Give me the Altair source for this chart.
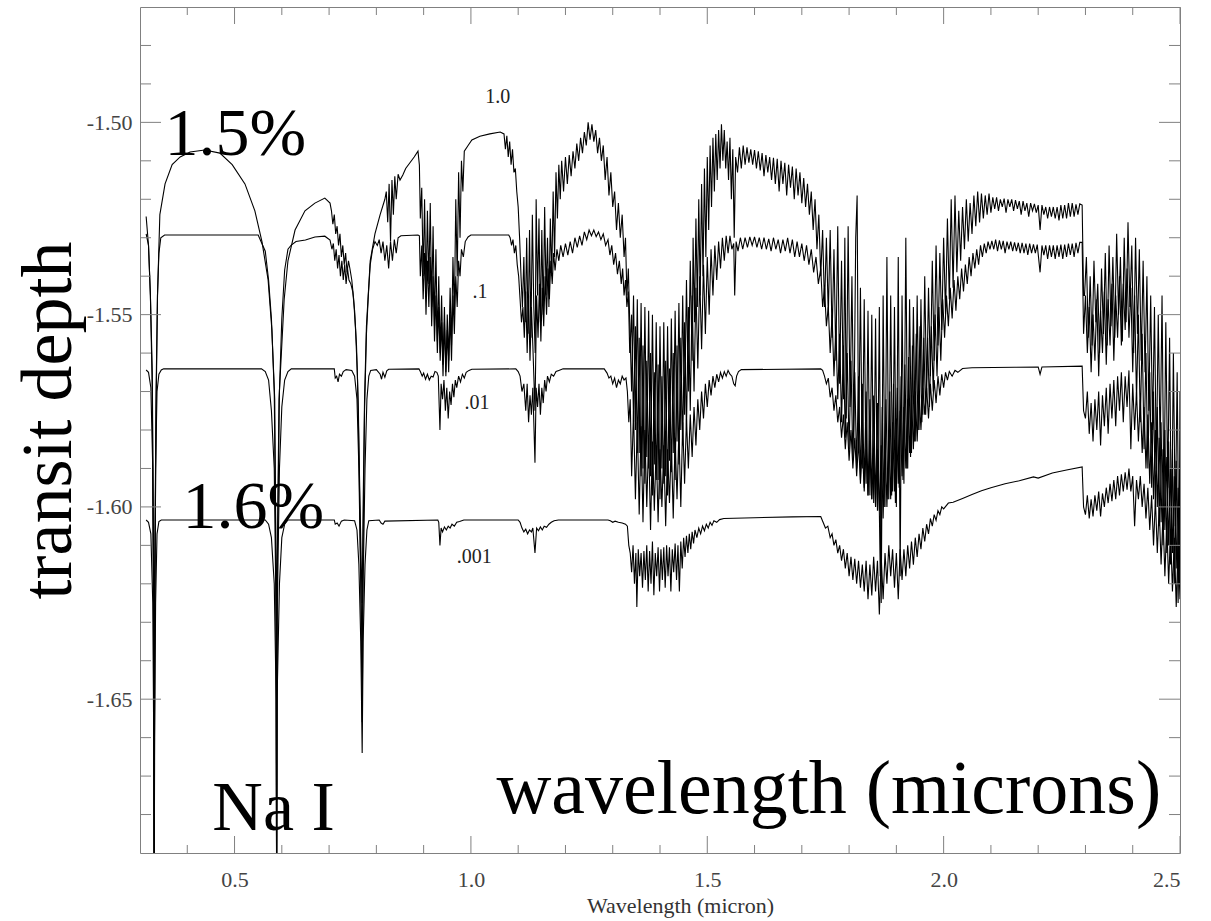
import altair as alt
import pandas as pd

# Model transit-depth spectra, (wavelength in micron, transit depth),
# one list per haze abundance (1.0, .1, .01, .001).
spec_1p0 = [
    (0.313, -1.5245), (0.318, -1.532), (0.322, -1.545), (0.326, -1.565), (0.329, -1.62),
    (0.330, -1.70), (0.331, -1.62), (0.334, -1.57), (0.337, -1.545), (0.342, -1.524),
    (0.353, -1.516), (0.368, -1.511), (0.385, -1.509), (0.406, -1.5077), (0.437, -1.5072),
    (0.469, -1.508), (0.495, -1.511), (0.522, -1.516), (0.543, -1.523), (0.558, -1.531),
    (0.571, -1.541), (0.579, -1.554), (0.585, -1.572), (0.588, -1.62), (0.589, -1.70),
    (0.590, -1.62), (0.594, -1.572), (0.605, -1.546), (0.613, -1.536), (0.628, -1.528),
    (0.649, -1.523), (0.670, -1.521), (0.691, -1.5197), (0.702, -1.521),
    (0.705, -1.523), (0.708, -1.5265), (0.711, -1.524), (0.714, -1.529), (0.717, -1.527),
    (0.720, -1.532), (0.723, -1.529), (0.726, -1.535), (0.729, -1.532), (0.732, -1.537),
    (0.735, -1.534), (0.738, -1.539), (0.741, -1.536), (0.744, -1.538), (0.748, -1.541),
    (0.752, -1.546), (0.756, -1.554), (0.760, -1.566), (0.764, -1.59), (0.768, -1.615),
    (0.770, -1.625), (0.772, -1.60), (0.775, -1.572), (0.779, -1.553), (0.787, -1.536),
    (0.797, -1.529), (0.808, -1.524), (0.818, -1.520), (0.821, -1.518), (0.824, -1.526),
    (0.827, -1.516), (0.830, -1.531), (0.833, -1.515), (0.836, -1.524), (0.839, -1.514),
    (0.842, -1.520), (0.846, -1.5135), (0.850, -1.515), (0.856, -1.5137), (0.862, -1.512),
    (0.871, -1.5105), (0.880, -1.509), (0.888, -1.5075),
    (0.891, -1.5111), (0.893, -1.525), (0.896, -1.517), (0.899, -1.540), (0.902, -1.520),
    (0.905, -1.545), (0.908, -1.523), (0.911, -1.542), (0.914, -1.521), (0.917, -1.548),
    (0.920, -1.527), (0.923, -1.553), (0.926, -1.533), (0.929, -1.557), (0.932, -1.540),
    (0.935, -1.560), (0.938, -1.545), (0.941, -1.563), (0.944, -1.548), (0.947, -1.565),
    (0.950, -1.550), (0.953, -1.562), (0.956, -1.543), (0.959, -1.558), (0.962, -1.535),
    (0.965, -1.550), (0.968, -1.520), (0.971, -1.540), (0.974, -1.513), (0.977, -1.530),
    (0.980, -1.510), (0.983, -1.518), (0.986, -1.5075), (0.994, -1.506), (1.002, -1.5046),
    (1.019, -1.5036), (1.040, -1.503), (1.062, -1.5025),
    (1.070, -1.503), (1.073, -1.507), (1.076, -1.5035), (1.079, -1.509), (1.082, -1.505),
    (1.085, -1.511), (1.088, -1.507), (1.091, -1.513), (1.094, -1.512), (1.097, -1.518),
    (1.100, -1.522), (1.103, -1.530), (1.106, -1.540), (1.109, -1.548),
    (1.112, -1.535), (1.115, -1.552), (1.118, -1.530), (1.121, -1.555), (1.124, -1.528),
    (1.127, -1.556), (1.130, -1.524), (1.133, -1.548), (1.136, -1.560), (1.138, -1.520),
    (1.141, -1.545), (1.144, -1.525), (1.147, -1.552), (1.150, -1.528), (1.153, -1.550),
    (1.156, -1.522), (1.159, -1.545), (1.162, -1.530), (1.165, -1.548), (1.168, -1.525),
    (1.171, -1.540), (1.174, -1.518), (1.177, -1.535), (1.180, -1.513), (1.183, -1.525),
    (1.186, -1.511), (1.189, -1.520), (1.192, -1.510), (1.196, -1.518), (1.200, -1.509),
    (1.204, -1.516), (1.208, -1.5085), (1.212, -1.514), (1.216, -1.5075), (1.220, -1.512),
    (1.224, -1.5055), (1.228, -1.510), (1.232, -1.504), (1.236, -1.508), (1.240, -1.5025),
    (1.244, -1.506), (1.248, -1.500), (1.252, -1.5045), (1.256, -1.5005), (1.260, -1.505),
    (1.264, -1.502), (1.268, -1.508), (1.272, -1.504), (1.276, -1.510), (1.280, -1.506),
    (1.284, -1.515), (1.288, -1.509), (1.292, -1.519), (1.296, -1.513), (1.300, -1.522),
    (1.304, -1.518), (1.308, -1.528), (1.312, -1.521), (1.316, -1.530), (1.320, -1.524),
    (1.324, -1.535), (1.327, -1.530), (1.330, -1.545), (1.333, -1.538),
    (1.336, -1.552), (1.340, -1.570), (1.344, -1.545), (1.348, -1.580), (1.352, -1.546),
    (1.356, -1.586), (1.360, -1.547), (1.364, -1.590), (1.368, -1.548), (1.372, -1.587),
    (1.376, -1.549), (1.380, -1.592), (1.384, -1.550), (1.388, -1.589), (1.392, -1.552),
    (1.396, -1.593), (1.400, -1.553), (1.404, -1.590), (1.408, -1.552), (1.412, -1.592),
    (1.416, -1.553), (1.420, -1.588), (1.424, -1.551), (1.428, -1.586), (1.432, -1.549),
    (1.436, -1.583), (1.440, -1.547), (1.444, -1.580), (1.448, -1.545), (1.452, -1.576),
    (1.456, -1.541), (1.460, -1.570), (1.464, -1.536), (1.468, -1.562),
    (1.470, -1.530), (1.473, -1.552), (1.476, -1.525), (1.479, -1.548), (1.482, -1.520),
    (1.485, -1.545), (1.488, -1.516), (1.491, -1.540), (1.494, -1.512), (1.497, -1.535),
    (1.500, -1.509), (1.503, -1.528), (1.506, -1.506), (1.509, -1.522), (1.512, -1.504),
    (1.515, -1.518), (1.518, -1.503), (1.521, -1.515), (1.524, -1.502), (1.527, -1.512),
    (1.530, -1.5005), (1.533, -1.510), (1.536, -1.502), (1.539, -1.512), (1.542, -1.505),
    (1.545, -1.515), (1.548, -1.504), (1.551, -1.520), (1.554, -1.507), (1.557, -1.530),
    (1.560, -1.509), (1.564, -1.513), (1.568, -1.5065), (1.572, -1.512), (1.576, -1.506),
    (1.580, -1.511), (1.584, -1.5065), (1.588, -1.5105), (1.592, -1.507), (1.596, -1.511),
    (1.600, -1.5072), (1.604, -1.512), (1.608, -1.5075), (1.612, -1.5125), (1.616, -1.508),
    (1.620, -1.514), (1.624, -1.5085), (1.628, -1.513), (1.632, -1.509), (1.636, -1.515),
    (1.640, -1.5092), (1.644, -1.516), (1.648, -1.5095), (1.652, -1.518), (1.656, -1.510),
    (1.660, -1.516), (1.664, -1.5105), (1.668, -1.519), (1.672, -1.511), (1.676, -1.517),
    (1.680, -1.5115), (1.684, -1.520), (1.688, -1.512), (1.692, -1.519), (1.696, -1.513),
    (1.700, -1.521), (1.704, -1.5145), (1.708, -1.522), (1.712, -1.516), (1.716, -1.524),
    (1.720, -1.518), (1.724, -1.528), (1.728, -1.520), (1.732, -1.533), (1.736, -1.524),
    (1.740, -1.540), (1.744, -1.528), (1.748, -1.548),
    (1.752, -1.530), (1.756, -1.550), (1.760, -1.528), (1.764, -1.556), (1.768, -1.533),
    (1.772, -1.562), (1.776, -1.527), (1.780, -1.568), (1.784, -1.536), (1.788, -1.572),
    (1.791, -1.530), (1.794, -1.577), (1.798, -1.527), (1.802, -1.574), (1.806, -1.540),
    (1.810, -1.582), (1.814, -1.530), (1.817, -1.519), (1.820, -1.586), (1.824, -1.543),
    (1.828, -1.590), (1.832, -1.546), (1.836, -1.594), (1.840, -1.549), (1.844, -1.597),
    (1.848, -1.550), (1.852, -1.599), (1.856, -1.551), (1.860, -1.601), (1.864, -1.548),
    (1.868, -1.625), (1.872, -1.545), (1.876, -1.600), (1.880, -1.535), (1.884, -1.598),
    (1.888, -1.545), (1.892, -1.596), (1.896, -1.548), (1.900, -1.600), (1.904, -1.535),
    (1.908, -1.618), (1.912, -1.545), (1.916, -1.594), (1.920, -1.530), (1.924, -1.590),
    (1.928, -1.546), (1.932, -1.586), (1.936, -1.548), (1.940, -1.583), (1.944, -1.545),
    (1.948, -1.580), (1.952, -1.546), (1.956, -1.576), (1.960, -1.540), (1.964, -1.571),
    (1.968, -1.543), (1.972, -1.566), (1.976, -1.536), (1.980, -1.562), (1.984, -1.532),
    (1.988, -1.558), (1.992, -1.534), (1.996, -1.554), (2.000, -1.530), (2.004, -1.550),
    (2.008, -1.525), (2.012, -1.546), (2.016, -1.520), (2.020, -1.543), (2.024, -1.519),
    (2.028, -1.539), (2.032, -1.523), (2.036, -1.536), (2.040, -1.522), (2.044, -1.533),
    (2.048, -1.520), (2.052, -1.531), (2.056, -1.521), (2.060, -1.529), (2.064, -1.519),
    (2.068, -1.527), (2.072, -1.518), (2.076, -1.526), (2.080, -1.5185), (2.084, -1.525),
    (2.088, -1.519), (2.092, -1.524), (2.096, -1.5185), (2.100, -1.5235),
    (2.104, -1.5195), (2.108, -1.5225), (2.112, -1.5195), (2.116, -1.523), (2.120, -1.520),
    (2.124, -1.522), (2.128, -1.5198), (2.132, -1.5235), (2.136, -1.520), (2.140, -1.522),
    (2.144, -1.5200), (2.148, -1.523), (2.152, -1.5202), (2.156, -1.5225), (2.160, -1.5205),
    (2.164, -1.524), (2.168, -1.5205), (2.172, -1.523), (2.176, -1.521), (2.180, -1.5245),
    (2.184, -1.521), (2.188, -1.523), (2.192, -1.5212), (2.196, -1.5235), (2.200, -1.5215),
    (2.204, -1.528), (2.208, -1.5215), (2.212, -1.524), (2.216, -1.522), (2.220, -1.525),
    (2.224, -1.522), (2.228, -1.5245), (2.232, -1.522), (2.236, -1.525), (2.240, -1.522),
    (2.244, -1.5255), (2.248, -1.5215), (2.252, -1.525), (2.256, -1.5215), (2.260, -1.525),
    (2.264, -1.521), (2.268, -1.5245), (2.272, -1.521), (2.276, -1.5245), (2.280, -1.5213),
    (2.284, -1.524), (2.288, -1.5212), (2.293, -1.5215), (2.296, -1.545),
    (2.298, -1.545), (2.302, -1.535), (2.306, -1.556), (2.310, -1.540), (2.314, -1.558),
    (2.318, -1.536), (2.322, -1.552), (2.326, -1.542), (2.330, -1.560), (2.334, -1.538),
    (2.338, -1.555), (2.342, -1.534), (2.346, -1.558), (2.350, -1.532), (2.354, -1.553),
    (2.358, -1.535), (2.362, -1.556), (2.366, -1.529), (2.370, -1.550), (2.374, -1.535),
    (2.378, -1.557), (2.382, -1.530), (2.386, -1.552), (2.390, -1.526), (2.394, -1.548),
    (2.398, -1.532), (2.402, -1.560), (2.406, -1.530), (2.410, -1.555), (2.414, -1.533),
    (2.418, -1.562), (2.422, -1.536), (2.426, -1.565), (2.430, -1.540), (2.434, -1.575),
    (2.438, -1.545), (2.442, -1.580), (2.446, -1.548), (2.450, -1.590), (2.454, -1.550),
    (2.458, -1.585), (2.462, -1.545), (2.466, -1.600), (2.470, -1.552), (2.474, -1.595),
    (2.478, -1.556), (2.482, -1.610), (2.486, -1.560), (2.490, -1.605), (2.494, -1.565),
    (2.498, -1.620), (2.500, -1.570),
]

spec_0p1 = [
    (0.313, -1.529), (0.318, -1.532), (0.322, -1.545), (0.326, -1.57), (0.329, -1.63),
    (0.330, -1.70), (0.331, -1.63), (0.334, -1.575), (0.337, -1.545), (0.340, -1.534),
    (0.344, -1.530), (0.352, -1.5293), (0.550, -1.5293), (0.556, -1.531), (0.565, -1.5335),
    (0.572, -1.541), (0.578, -1.551), (0.584, -1.57), (0.588, -1.62), (0.589, -1.70),
    (0.590, -1.62), (0.595, -1.57), (0.600, -1.551), (0.606, -1.5384), (0.613, -1.533),
    (0.620, -1.5319), (0.630, -1.531), (0.650, -1.5306), (0.670, -1.5298), (0.691, -1.5296),
    (0.702, -1.5306),
    (0.706, -1.533), (0.709, -1.5315), (0.712, -1.536), (0.715, -1.533), (0.718, -1.538),
    (0.721, -1.5345), (0.724, -1.540), (0.727, -1.536), (0.730, -1.541), (0.733, -1.537),
    (0.736, -1.542), (0.739, -1.538), (0.742, -1.541), (0.746, -1.542), (0.750, -1.544),
    (0.754, -1.549), (0.758, -1.558), (0.762, -1.575), (0.766, -1.61), (0.770, -1.640),
    (0.772, -1.61), (0.775, -1.575), (0.779, -1.555), (0.783, -1.545), (0.787, -1.537),
    (0.792, -1.533), (0.797, -1.531),
    (0.802, -1.532), (0.806, -1.5305), (0.810, -1.534), (0.814, -1.531), (0.818, -1.536),
    (0.822, -1.532), (0.826, -1.538), (0.830, -1.531), (0.834, -1.536), (0.838, -1.5305),
    (0.842, -1.534), (0.846, -1.530), (0.852, -1.5295), (0.888, -1.5293),
    (0.891, -1.5295), (0.893, -1.540), (0.896, -1.532), (0.899, -1.546), (0.902, -1.534),
    (0.905, -1.550), (0.908, -1.536), (0.911, -1.548), (0.914, -1.535), (0.917, -1.553),
    (0.920, -1.540), (0.923, -1.557), (0.926, -1.545), (0.929, -1.560), (0.932, -1.548),
    (0.935, -1.562), (0.938, -1.552), (0.941, -1.566), (0.944, -1.552), (0.947, -1.566),
    (0.950, -1.554), (0.953, -1.565), (0.956, -1.550), (0.959, -1.562), (0.962, -1.545),
    (0.965, -1.555), (0.968, -1.540), (0.971, -1.548), (0.974, -1.536), (0.977, -1.540),
    (0.980, -1.533), (0.984, -1.535), (0.988, -1.531), (0.994, -1.5298), (1.000, -1.5293),
    (1.080, -1.5293),
    (1.083, -1.530), (1.086, -1.532), (1.089, -1.5305), (1.092, -1.534), (1.095, -1.532),
    (1.098, -1.537), (1.101, -1.540), (1.104, -1.546), (1.107, -1.552), (1.110, -1.548),
    (1.113, -1.556), (1.116, -1.544), (1.119, -1.560), (1.122, -1.545), (1.125, -1.562),
    (1.128, -1.548), (1.131, -1.558), (1.1355, -1.575), (1.139, -1.545), (1.142, -1.556),
    (1.145, -1.542), (1.148, -1.557), (1.151, -1.543), (1.154, -1.553), (1.157, -1.540),
    (1.160, -1.550), (1.163, -1.538), (1.166, -1.546), (1.169, -1.536), (1.172, -1.542),
    (1.175, -1.534), (1.178, -1.5385), (1.182, -1.533), (1.186, -1.536), (1.190, -1.532),
    (1.195, -1.535), (1.200, -1.5315), (1.205, -1.5345), (1.210, -1.531), (1.215, -1.534),
    (1.220, -1.530), (1.225, -1.5325), (1.230, -1.5295), (1.235, -1.532), (1.240, -1.5285),
    (1.245, -1.5305), (1.250, -1.528), (1.255, -1.5295), (1.260, -1.528), (1.265, -1.5297),
    (1.270, -1.5285), (1.275, -1.5305), (1.280, -1.529), (1.285, -1.532), (1.290, -1.5305),
    (1.294, -1.5345), (1.298, -1.532), (1.302, -1.537), (1.306, -1.534), (1.310, -1.5395),
    (1.314, -1.536), (1.318, -1.542), (1.321, -1.538), (1.324, -1.545), (1.327, -1.541),
    (1.330, -1.548), (1.333, -1.544),
    (1.336, -1.560), (1.340, -1.550), (1.344, -1.578), (1.348, -1.553), (1.352, -1.586),
    (1.356, -1.556), (1.360, -1.592), (1.364, -1.558), (1.368, -1.594), (1.372, -1.562),
    (1.376, -1.590), (1.380, -1.560), (1.384, -1.597), (1.388, -1.565), (1.392, -1.593),
    (1.396, -1.563), (1.400, -1.598), (1.404, -1.566), (1.408, -1.594), (1.412, -1.562),
    (1.416, -1.597), (1.420, -1.564), (1.424, -1.591), (1.428, -1.560), (1.432, -1.593),
    (1.436, -1.558), (1.440, -1.589), (1.444, -1.556), (1.448, -1.584), (1.452, -1.552),
    (1.456, -1.580), (1.460, -1.548), (1.464, -1.575), (1.468, -1.545), (1.472, -1.570),
    (1.476, -1.543), (1.480, -1.564), (1.484, -1.540), (1.488, -1.559), (1.492, -1.537),
    (1.496, -1.555), (1.500, -1.535), (1.504, -1.550), (1.508, -1.533), (1.512, -1.545),
    (1.516, -1.532), (1.520, -1.541), (1.524, -1.531), (1.528, -1.538), (1.532, -1.530),
    (1.536, -1.536), (1.540, -1.5295), (1.544, -1.534), (1.548, -1.5295), (1.552, -1.533),
    (1.556, -1.5315), (1.558, -1.545), (1.561, -1.531), (1.565, -1.5335), (1.570, -1.530),
    (1.575, -1.533), (1.580, -1.530), (1.585, -1.5325), (1.590, -1.5298), (1.595, -1.532),
    (1.600, -1.5298), (1.605, -1.5325), (1.610, -1.530), (1.615, -1.533), (1.620, -1.530),
    (1.625, -1.533), (1.630, -1.5303), (1.635, -1.5335), (1.640, -1.530), (1.645, -1.533),
    (1.650, -1.5305), (1.655, -1.534), (1.660, -1.5305), (1.665, -1.5335), (1.670, -1.530),
    (1.675, -1.534), (1.680, -1.5305), (1.685, -1.535), (1.690, -1.531), (1.695, -1.535),
    (1.700, -1.5315), (1.705, -1.536), (1.710, -1.532), (1.715, -1.537), (1.720, -1.533),
    (1.725, -1.539), (1.730, -1.535), (1.735, -1.542), (1.740, -1.538), (1.744, -1.548),
    (1.748, -1.543), (1.752, -1.553),
    (1.756, -1.548), (1.760, -1.560), (1.764, -1.550), (1.768, -1.566), (1.772, -1.553),
    (1.776, -1.572), (1.780, -1.555), (1.784, -1.578), (1.788, -1.558), (1.792, -1.582),
    (1.796, -1.560), (1.800, -1.585), (1.804, -1.562), (1.808, -1.588), (1.812, -1.565),
    (1.816, -1.590), (1.820, -1.566), (1.824, -1.593), (1.828, -1.568), (1.832, -1.595),
    (1.836, -1.570), (1.840, -1.597), (1.844, -1.572), (1.848, -1.598), (1.852, -1.571),
    (1.856, -1.600), (1.860, -1.573), (1.864, -1.601), (1.866, -1.618), (1.870, -1.574),
    (1.874, -1.600), (1.878, -1.572), (1.882, -1.598), (1.886, -1.570), (1.890, -1.597),
    (1.894, -1.568), (1.898, -1.599), (1.902, -1.569), (1.906, -1.595), (1.910, -1.566),
    (1.914, -1.593), (1.918, -1.563), (1.922, -1.590), (1.926, -1.561), (1.930, -1.587),
    (1.934, -1.558), (1.938, -1.583), (1.942, -1.555), (1.946, -1.580), (1.950, -1.553),
    (1.954, -1.578), (1.958, -1.556), (1.962, -1.576), (1.966, -1.556), (1.970, -1.574),
    (1.974, -1.553), (1.978, -1.570), (1.982, -1.550), (1.986, -1.566), (1.990, -1.548),
    (1.994, -1.562), (1.998, -1.546), (2.002, -1.556), (2.006, -1.545), (2.010, -1.553),
    (2.014, -1.543), (2.018, -1.551), (2.022, -1.541), (2.026, -1.549), (2.030, -1.540),
    (2.034, -1.546), (2.038, -1.538), (2.042, -1.544), (2.046, -1.537), (2.050, -1.542),
    (2.054, -1.535), (2.058, -1.540), (2.062, -1.534), (2.066, -1.538), (2.070, -1.533),
    (2.074, -1.537), (2.078, -1.532), (2.082, -1.535), (2.086, -1.5315), (2.090, -1.534),
    (2.094, -1.531), (2.098, -1.533), (2.102, -1.5308),
    (2.106, -1.533), (2.110, -1.5305), (2.114, -1.5335), (2.118, -1.5307), (2.122, -1.533),
    (2.126, -1.5308), (2.130, -1.534), (2.134, -1.531), (2.138, -1.533), (2.142, -1.531),
    (2.146, -1.5335), (2.150, -1.5312), (2.154, -1.5335), (2.158, -1.5313), (2.162, -1.534),
    (2.166, -1.5313), (2.170, -1.534), (2.174, -1.5315), (2.178, -1.5345), (2.182, -1.5315),
    (2.186, -1.534), (2.190, -1.5317), (2.194, -1.534), (2.198, -1.5318), (2.204, -1.539),
    (2.208, -1.532), (2.212, -1.5345), (2.216, -1.532), (2.220, -1.5355), (2.224, -1.532),
    (2.228, -1.535), (2.232, -1.532), (2.236, -1.5355), (2.240, -1.532), (2.244, -1.535),
    (2.248, -1.5318), (2.252, -1.5355), (2.256, -1.5318), (2.260, -1.535), (2.264, -1.5315),
    (2.268, -1.5345), (2.272, -1.5315), (2.276, -1.535), (2.280, -1.5313), (2.284, -1.534),
    (2.288, -1.5312), (2.293, -1.5312), (2.296, -1.555),
    (2.300, -1.545), (2.304, -1.560), (2.308, -1.548), (2.312, -1.565), (2.316, -1.550),
    (2.320, -1.562), (2.324, -1.546), (2.328, -1.566), (2.332, -1.549), (2.336, -1.560),
    (2.340, -1.544), (2.344, -1.563), (2.348, -1.546), (2.352, -1.558), (2.356, -1.542),
    (2.360, -1.562), (2.364, -1.545), (2.368, -1.556), (2.372, -1.540), (2.376, -1.558),
    (2.380, -1.542), (2.384, -1.554), (2.388, -1.538), (2.392, -1.556), (2.396, -1.543),
    (2.400, -1.565), (2.404, -1.545), (2.408, -1.572), (2.412, -1.550), (2.416, -1.578),
    (2.420, -1.555), (2.424, -1.585), (2.428, -1.560), (2.432, -1.590), (2.436, -1.565),
    (2.440, -1.595), (2.444, -1.570), (2.448, -1.600), (2.452, -1.574), (2.456, -1.605),
    (2.460, -1.578), (2.464, -1.610), (2.468, -1.580), (2.472, -1.612), (2.476, -1.583),
    (2.480, -1.615), (2.484, -1.585), (2.488, -1.620), (2.492, -1.588), (2.496, -1.625),
    (2.500, -1.590),
]

spec_0p01 = [
    (0.313, -1.5644), (0.318, -1.565), (0.323, -1.569), (0.327, -1.59), (0.329, -1.64),
    (0.330, -1.70), (0.331, -1.64), (0.333, -1.59), (0.336, -1.570), (0.340, -1.5655),
    (0.345, -1.5644), (0.350, -1.5641), (0.557, -1.5641), (0.565, -1.5648), (0.572, -1.567),
    (0.578, -1.575), (0.584, -1.59), (0.588, -1.63), (0.589, -1.70), (0.590, -1.63),
    (0.595, -1.59), (0.600, -1.574), (0.606, -1.567), (0.613, -1.5648), (0.620, -1.5641),
    (0.711, -1.5641), (0.713, -1.5665), (0.716, -1.566), (0.719, -1.5675), (0.722, -1.5655),
    (0.726, -1.566), (0.730, -1.5648), (0.736, -1.5643), (0.748, -1.5645), (0.754, -1.566),
    (0.759, -1.572), (0.763, -1.59), (0.767, -1.62), (0.770, -1.656), (0.772, -1.62),
    (0.776, -1.59), (0.780, -1.572), (0.784, -1.566), (0.788, -1.5645), (0.800, -1.5643),
    (0.808, -1.5655), (0.811, -1.5668), (0.814, -1.565), (0.818, -1.5663), (0.822, -1.5646),
    (0.826, -1.5642), (0.890, -1.5641),
    (0.893, -1.5648), (0.897, -1.566), (0.900, -1.5652), (0.904, -1.5668), (0.908, -1.5655),
    (0.912, -1.567), (0.916, -1.566), (0.920, -1.5662), (0.924, -1.5648), (0.928, -1.565),
    (0.931, -1.566), (0.9345, -1.580), (0.937, -1.568), (0.940, -1.572), (0.943, -1.567),
    (0.946, -1.575), (0.949, -1.569), (0.952, -1.577), (0.955, -1.570), (0.958, -1.5735),
    (0.961, -1.568), (0.964, -1.5715), (0.967, -1.567), (0.970, -1.569), (0.974, -1.566),
    (0.978, -1.5675), (0.982, -1.5655), (0.986, -1.5665), (0.990, -1.565), (0.996, -1.5645),
    (1.002, -1.5642), (1.095, -1.5641),
    (1.100, -1.5648), (1.104, -1.566), (1.108, -1.570), (1.112, -1.568), (1.116, -1.575),
    (1.119, -1.568), (1.122, -1.578), (1.125, -1.571), (1.128, -1.576), (1.131, -1.569),
    (1.1355, -1.5885), (1.138, -1.569), (1.141, -1.574), (1.144, -1.568), (1.147, -1.576),
    (1.150, -1.569), (1.153, -1.573), (1.156, -1.567), (1.159, -1.570), (1.162, -1.566),
    (1.166, -1.5675), (1.170, -1.5655), (1.175, -1.566), (1.180, -1.5648), (1.186, -1.5645),
    (1.195, -1.5641), (1.282, -1.5641),
    (1.288, -1.5652), (1.292, -1.5665), (1.296, -1.566), (1.300, -1.568), (1.304, -1.5665),
    (1.308, -1.569), (1.312, -1.567), (1.316, -1.568), (1.320, -1.566), (1.324, -1.567),
    (1.328, -1.5665), (1.331, -1.570),
    (1.334, -1.578), (1.337, -1.572), (1.340, -1.592), (1.344, -1.575), (1.348, -1.598),
    (1.352, -1.578), (1.356, -1.602), (1.360, -1.579), (1.364, -1.604), (1.368, -1.580),
    (1.372, -1.600), (1.376, -1.582), (1.380, -1.606), (1.384, -1.583), (1.388, -1.601),
    (1.392, -1.584), (1.396, -1.604), (1.400, -1.585), (1.404, -1.600), (1.408, -1.584),
    (1.412, -1.605), (1.416, -1.585), (1.420, -1.599), (1.424, -1.583), (1.428, -1.603),
    (1.432, -1.582), (1.436, -1.598), (1.440, -1.580), (1.444, -1.600), (1.448, -1.578),
    (1.452, -1.594), (1.456, -1.577), (1.460, -1.590), (1.464, -1.576), (1.468, -1.587),
    (1.472, -1.574), (1.476, -1.584), (1.480, -1.572), (1.484, -1.580), (1.488, -1.570),
    (1.492, -1.577), (1.496, -1.568), (1.500, -1.574), (1.504, -1.567), (1.508, -1.571),
    (1.512, -1.566), (1.516, -1.569), (1.520, -1.5655), (1.524, -1.5675), (1.528, -1.565),
    (1.532, -1.5665), (1.536, -1.5648), (1.540, -1.566), (1.544, -1.5645), (1.548, -1.5655),
    (1.552, -1.566), (1.556, -1.568), (1.559, -1.5685), (1.562, -1.566), (1.566, -1.5648),
    (1.572, -1.5643), (1.740, -1.5641),
    (1.744, -1.5645), (1.748, -1.566), (1.752, -1.568), (1.756, -1.5665), (1.760, -1.5715),
    (1.764, -1.569), (1.768, -1.575), (1.772, -1.571), (1.776, -1.578), (1.780, -1.574),
    (1.784, -1.582), (1.788, -1.576), (1.792, -1.585), (1.796, -1.578), (1.800, -1.588),
    (1.804, -1.580), (1.808, -1.590), (1.812, -1.582), (1.816, -1.592), (1.820, -1.583),
    (1.824, -1.594), (1.828, -1.584), (1.832, -1.596), (1.836, -1.585), (1.840, -1.597),
    (1.844, -1.586), (1.848, -1.598), (1.852, -1.586), (1.856, -1.600), (1.860, -1.585),
    (1.864, -1.601), (1.868, -1.584), (1.872, -1.603), (1.876, -1.582), (1.880, -1.600),
    (1.884, -1.580), (1.888, -1.598), (1.892, -1.578), (1.896, -1.596), (1.900, -1.577),
    (1.904, -1.594), (1.908, -1.575), (1.912, -1.592), (1.916, -1.574), (1.920, -1.590),
    (1.924, -1.572), (1.928, -1.586), (1.932, -1.571), (1.936, -1.585), (1.940, -1.570),
    (1.944, -1.583), (1.948, -1.570), (1.952, -1.580), (1.956, -1.569), (1.960, -1.576),
    (1.964, -1.569), (1.968, -1.577), (1.972, -1.568), (1.976, -1.575), (1.980, -1.567),
    (1.984, -1.573), (1.988, -1.566), (1.992, -1.571), (1.996, -1.5655), (2.000, -1.569),
    (2.004, -1.565), (2.008, -1.567), (2.012, -1.5648), (2.018, -1.566), (2.024, -1.5645),
    (2.030, -1.565), (2.040, -1.5640), (2.060, -1.5638), (2.150, -1.5637), (2.200, -1.5636),
    (2.204, -1.5655), (2.208, -1.5636), (2.293, -1.5634), (2.296, -1.575),
    (2.300, -1.577), (2.304, -1.570), (2.308, -1.581), (2.312, -1.573), (2.316, -1.583),
    (2.320, -1.572), (2.324, -1.580), (2.328, -1.570), (2.332, -1.584), (2.336, -1.571),
    (2.340, -1.579), (2.344, -1.569), (2.348, -1.581), (2.352, -1.568), (2.356, -1.577),
    (2.360, -1.567), (2.364, -1.579), (2.368, -1.566), (2.372, -1.575), (2.376, -1.565),
    (2.380, -1.578), (2.384, -1.566), (2.388, -1.574), (2.392, -1.5645), (2.396, -1.585),
    (2.400, -1.568), (2.404, -1.580), (2.408, -1.570), (2.412, -1.583), (2.416, -1.572),
    (2.420, -1.586), (2.424, -1.574), (2.428, -1.590), (2.432, -1.576), (2.436, -1.594),
    (2.440, -1.578), (2.444, -1.598), (2.448, -1.580), (2.452, -1.600), (2.456, -1.582),
    (2.460, -1.604), (2.464, -1.585), (2.468, -1.606), (2.472, -1.587), (2.476, -1.610),
    (2.480, -1.590), (2.484, -1.612), (2.488, -1.592), (2.492, -1.616), (2.496, -1.595),
    (2.500, -1.620),
]

spec_0p001 = [
    (0.313, -1.6034), (0.318, -1.604), (0.323, -1.607), (0.327, -1.625), (0.329, -1.66),
    (0.330, -1.70), (0.331, -1.66), (0.333, -1.625), (0.336, -1.607), (0.340, -1.6038),
    (0.345, -1.6034), (0.565, -1.6034), (0.572, -1.6045), (0.578, -1.608), (0.584, -1.62),
    (0.588, -1.65), (0.589, -1.70), (0.590, -1.65), (0.595, -1.62), (0.600, -1.608),
    (0.606, -1.6045), (0.613, -1.6034), (0.711, -1.6034), (0.713, -1.6045), (0.717, -1.6042),
    (0.721, -1.605), (0.726, -1.6037), (0.732, -1.6034), (0.754, -1.6036), (0.759, -1.606),
    (0.763, -1.615), (0.767, -1.635), (0.770, -1.664), (0.772, -1.635), (0.776, -1.615),
    (0.780, -1.606), (0.784, -1.6036), (0.806, -1.6034), (0.810, -1.6042), (0.814, -1.6045),
    (0.818, -1.6037), (0.930, -1.6034),
    (0.932, -1.604), (0.9345, -1.610), (0.937, -1.6055), (0.940, -1.6065), (0.944, -1.6052),
    (0.948, -1.606), (0.952, -1.605), (0.956, -1.6055), (0.960, -1.6045), (0.965, -1.605),
    (0.970, -1.604), (0.976, -1.6038), (0.985, -1.6034), (1.100, -1.6034),
    (1.104, -1.604), (1.108, -1.6055), (1.112, -1.6065), (1.116, -1.6058), (1.120, -1.607),
    (1.124, -1.606), (1.128, -1.6065), (1.131, -1.6055), (1.1355, -1.612), (1.139, -1.6055),
    (1.143, -1.6062), (1.147, -1.6052), (1.151, -1.606), (1.155, -1.605), (1.160, -1.6053),
    (1.165, -1.6045), (1.170, -1.604), (1.176, -1.6036), (1.185, -1.6034), (1.290, -1.6034),
    (1.295, -1.6036), (1.300, -1.604), (1.305, -1.6037), (1.312, -1.604), (1.320, -1.6042),
    (1.327, -1.6045), (1.331, -1.605), (1.334, -1.610),
    (1.337, -1.612), (1.340, -1.617), (1.343, -1.610), (1.346, -1.620), (1.349, -1.612),
    (1.351, -1.626), (1.354, -1.611), (1.357, -1.618), (1.360, -1.612), (1.363, -1.621),
    (1.366, -1.6115), (1.369, -1.619), (1.372, -1.610), (1.375, -1.622), (1.378, -1.6115),
    (1.381, -1.620), (1.384, -1.609), (1.387, -1.623), (1.390, -1.612), (1.393, -1.618),
    (1.396, -1.6105), (1.399, -1.622), (1.402, -1.611), (1.405, -1.619), (1.408, -1.6105),
    (1.411, -1.621), (1.414, -1.610), (1.417, -1.618), (1.420, -1.6105), (1.423, -1.622),
    (1.426, -1.611), (1.429, -1.617), (1.432, -1.6095), (1.435, -1.619), (1.438, -1.610),
    (1.441, -1.622), (1.444, -1.609), (1.447, -1.616), (1.450, -1.608), (1.453, -1.613),
    (1.456, -1.6075), (1.459, -1.612), (1.462, -1.607), (1.465, -1.611), (1.468, -1.6065),
    (1.471, -1.6095), (1.474, -1.606), (1.478, -1.608), (1.482, -1.6055), (1.486, -1.607),
    (1.490, -1.605), (1.494, -1.6062), (1.498, -1.6045), (1.502, -1.6055), (1.506, -1.604),
    (1.510, -1.6048), (1.514, -1.6036), (1.520, -1.6040), (1.526, -1.6033), (1.535, -1.6030),
    (1.600, -1.6028), (1.680, -1.6026), (1.740, -1.6025),
    (1.745, -1.604), (1.750, -1.6055), (1.755, -1.605), (1.760, -1.608), (1.764, -1.607),
    (1.768, -1.610), (1.772, -1.6085), (1.776, -1.612), (1.780, -1.610), (1.784, -1.614),
    (1.788, -1.611), (1.792, -1.616), (1.796, -1.612), (1.800, -1.618), (1.804, -1.613),
    (1.808, -1.619), (1.812, -1.6135), (1.816, -1.620), (1.820, -1.614), (1.824, -1.621),
    (1.828, -1.615), (1.832, -1.622), (1.836, -1.614), (1.840, -1.624), (1.844, -1.615),
    (1.848, -1.623), (1.852, -1.613), (1.856, -1.622), (1.860, -1.614), (1.864, -1.628),
    (1.868, -1.613), (1.872, -1.624), (1.876, -1.612), (1.880, -1.620), (1.884, -1.610),
    (1.888, -1.618), (1.892, -1.611), (1.896, -1.621), (1.900, -1.612), (1.904, -1.624),
    (1.908, -1.611), (1.912, -1.619), (1.916, -1.611), (1.920, -1.618), (1.924, -1.610),
    (1.928, -1.616), (1.932, -1.609), (1.936, -1.615), (1.940, -1.608), (1.944, -1.613),
    (1.948, -1.607), (1.952, -1.611), (1.956, -1.6055), (1.960, -1.609), (1.964, -1.6045),
    (1.968, -1.607), (1.972, -1.603), (1.976, -1.605), (1.980, -1.602), (1.984, -1.6035),
    (1.988, -1.601), (1.992, -1.602), (1.996, -1.600), (2.000, -1.6005), (2.010, -1.5990),
    (2.020, -1.5988), (2.040, -1.5978), (2.060, -1.5968), (2.080, -1.5958), (2.100, -1.5950),
    (2.130, -1.5940), (2.160, -1.5932), (2.190, -1.5922), (2.200, -1.5925), (2.230, -1.5912),
    (2.260, -1.5904), (2.293, -1.5896), (2.296, -1.600),
    (2.300, -1.602), (2.304, -1.597), (2.308, -1.603), (2.312, -1.598), (2.316, -1.6025),
    (2.320, -1.597), (2.324, -1.601), (2.328, -1.596), (2.332, -1.6025), (2.336, -1.5965),
    (2.340, -1.600), (2.344, -1.595), (2.348, -1.599), (2.352, -1.594), (2.356, -1.5985),
    (2.360, -1.593), (2.364, -1.598), (2.368, -1.592), (2.372, -1.597), (2.376, -1.5915),
    (2.380, -1.596), (2.384, -1.591), (2.388, -1.5955), (2.392, -1.590), (2.396, -1.596),
    (2.400, -1.592), (2.404, -1.605), (2.408, -1.593), (2.412, -1.598), (2.416, -1.592),
    (2.420, -1.600), (2.424, -1.594), (2.428, -1.603), (2.432, -1.595), (2.436, -1.606),
    (2.440, -1.597), (2.444, -1.610), (2.448, -1.598), (2.452, -1.612), (2.456, -1.600),
    (2.460, -1.615), (2.464, -1.602), (2.468, -1.618), (2.472, -1.604), (2.476, -1.620),
    (2.480, -1.606), (2.484, -1.622), (2.488, -1.608), (2.492, -1.626), (2.496, -1.610),
    (2.500, -1.624),
]

series_names = ["1.0", ".1", ".01", ".001"]

# Axis tick positions
x_major = [0.5, 1.0, 1.5, 2.0, 2.5]
x_minor = [0.4, 0.6, 0.7, 0.8, 0.9, 1.1, 1.2, 1.3, 1.4, 1.6, 1.7, 1.8, 1.9,
           2.1, 2.2, 2.3, 2.4]
y_major = [-1.65, -1.60, -1.55, -1.50]
y_minor = [-1.48, -1.49, -1.51, -1.52, -1.53, -1.54, -1.56, -1.57, -1.58,
           -1.59, -1.61, -1.62, -1.63, -1.64, -1.66, -1.67, -1.68]

# Curve labels (abundance) and their anchor points
curve_labels = ["1.0", ".1", ".01", ".001"]
curve_label_wl = [1.057, 1.019, 1.013, 1.007]
curve_label_depth = [-1.4934, -1.5441, -1.5730, -1.6130]

# Large annotations: text, anchor wavelength, anchor depth (left/baseline)
note_text = ["1.5%", "1.6%", "Na I", "wavelength (microns)"]
note_wl = [0.352, 0.390, 0.453, 1.054]
note_depth = [-1.5085, -1.6055, -1.6840, -1.6796]

W, H = 1040, 846
SERIF = "Liberation Serif"
FRAME = "#808080"

rows = []
for name, spec in zip(series_names, [spec_1p0, spec_0p1, spec_0p01, spec_0p001]):
    for wl, d in spec:
        rows.append({"series": name, "wl": wl, "depth": d})
spectra = pd.DataFrame(rows)

x_scale = alt.Scale(domain=[0.3, 2.5], nice=False, zero=False)
y_scale = alt.Scale(domain=[-1.69, -1.47], nice=False, zero=False)

x_axis = alt.Axis(
    values=x_major, labelExpr="format(datum.value, '.1f')",
    ticks=False, tickSize=0, domain=False, grid=False,
    labelFont=SERIF, labelFontSize=22, labelColor="#444", labelPadding=16,
    title="Wavelength (micron)", titleFont=SERIF, titleFontSize=22,
    titleFontWeight="normal", titleColor="#333",
    titleX=540, titleY=59, titleAlign="center", titleBaseline="alphabetic",
)
y_axis = alt.Axis(
    values=y_major,
    labelExpr="replace(format(datum.value, '.2f'), '\u2212', '-')",
    ticks=False, tickSize=0, domain=False, grid=False,
    labelFont=SERIF, labelFontSize=22, labelColor="#444", labelPadding=8,
    title="transit depth", titleFont=SERIF, titleFontSize=72,
    titleFontWeight="normal", titleColor="#000", titleAngle=270,
    titleX=-70, titleY=413, titleAlign="center", titleBaseline="alphabetic",
)

X = alt.X("wl:Q", scale=x_scale, axis=x_axis)
Y = alt.Y("depth:Q", scale=y_scale, axis=y_axis)

lines = alt.Chart(spectra).mark_line(
    color="#000", strokeWidth=1.1, clip=True
).encode(x=X, y=Y, detail="series:N")

# Inward-pointing ticks on all four sides
xmaj = pd.DataFrame({"wl": x_major})
xmin = pd.DataFrame({"wl": x_minor})
ymaj = pd.DataFrame({"depth": y_major})
ymin = pd.DataFrame({"depth": y_minor})

def xticks(df, length):
    bottom = alt.Chart(df).mark_rule(color=FRAME, strokeWidth=1).encode(
        x=X, y=alt.value(H), y2=alt.value(H - length))
    top = alt.Chart(df).mark_rule(color=FRAME, strokeWidth=1).encode(
        x=X, y=alt.value(0), y2=alt.value(length))
    return bottom + top

def yticks(df, length):
    left = alt.Chart(df).mark_rule(color=FRAME, strokeWidth=1).encode(
        y=Y, x=alt.value(0), x2=alt.value(length))
    right = alt.Chart(df).mark_rule(color=FRAME, strokeWidth=1).encode(
        y=Y, x=alt.value(W), x2=alt.value(W - length))
    return left + right

ticks = xticks(xmaj, 17) + xticks(xmin, 8) + yticks(ymaj, 21) + yticks(ymin, 11)

labels_df = pd.DataFrame({"label": curve_labels, "wl": curve_label_wl,
                          "depth": curve_label_depth})
curve_text = alt.Chart(labels_df).mark_text(
    font=SERIF, fontSize=20, color="#222", align="center", baseline="middle"
).encode(x=X, y=Y, text="label:N")

notes_df = pd.DataFrame({"note": note_text, "wl": note_wl, "depth": note_depth})
note_sizes = {"1.5%": 68, "1.6%": 68, "Na I": 70, "wavelength (microns)": 76}
note_layers = []
for t, size in note_sizes.items():
    note_layers.append(
        alt.Chart(notes_df[notes_df["note"] == t]).mark_text(
            font=SERIF, fontSize=size, color="#000", align="left",
            baseline="alphabetic"
        ).encode(x=X, y=Y, text="note:N")
    )

chart = alt.layer(lines, ticks, curve_text, *note_layers).properties(
    width=W, height=H,
    autosize=alt.AutoSizeParams(type="none"),
    padding={"left": 140, "top": 7, "right": 31, "bottom": 68},
    background="white",
).configure_view(stroke=FRAME, strokeWidth=1)

chart.save("out.html", embed_options={"renderer": "svg", "actions": False})
